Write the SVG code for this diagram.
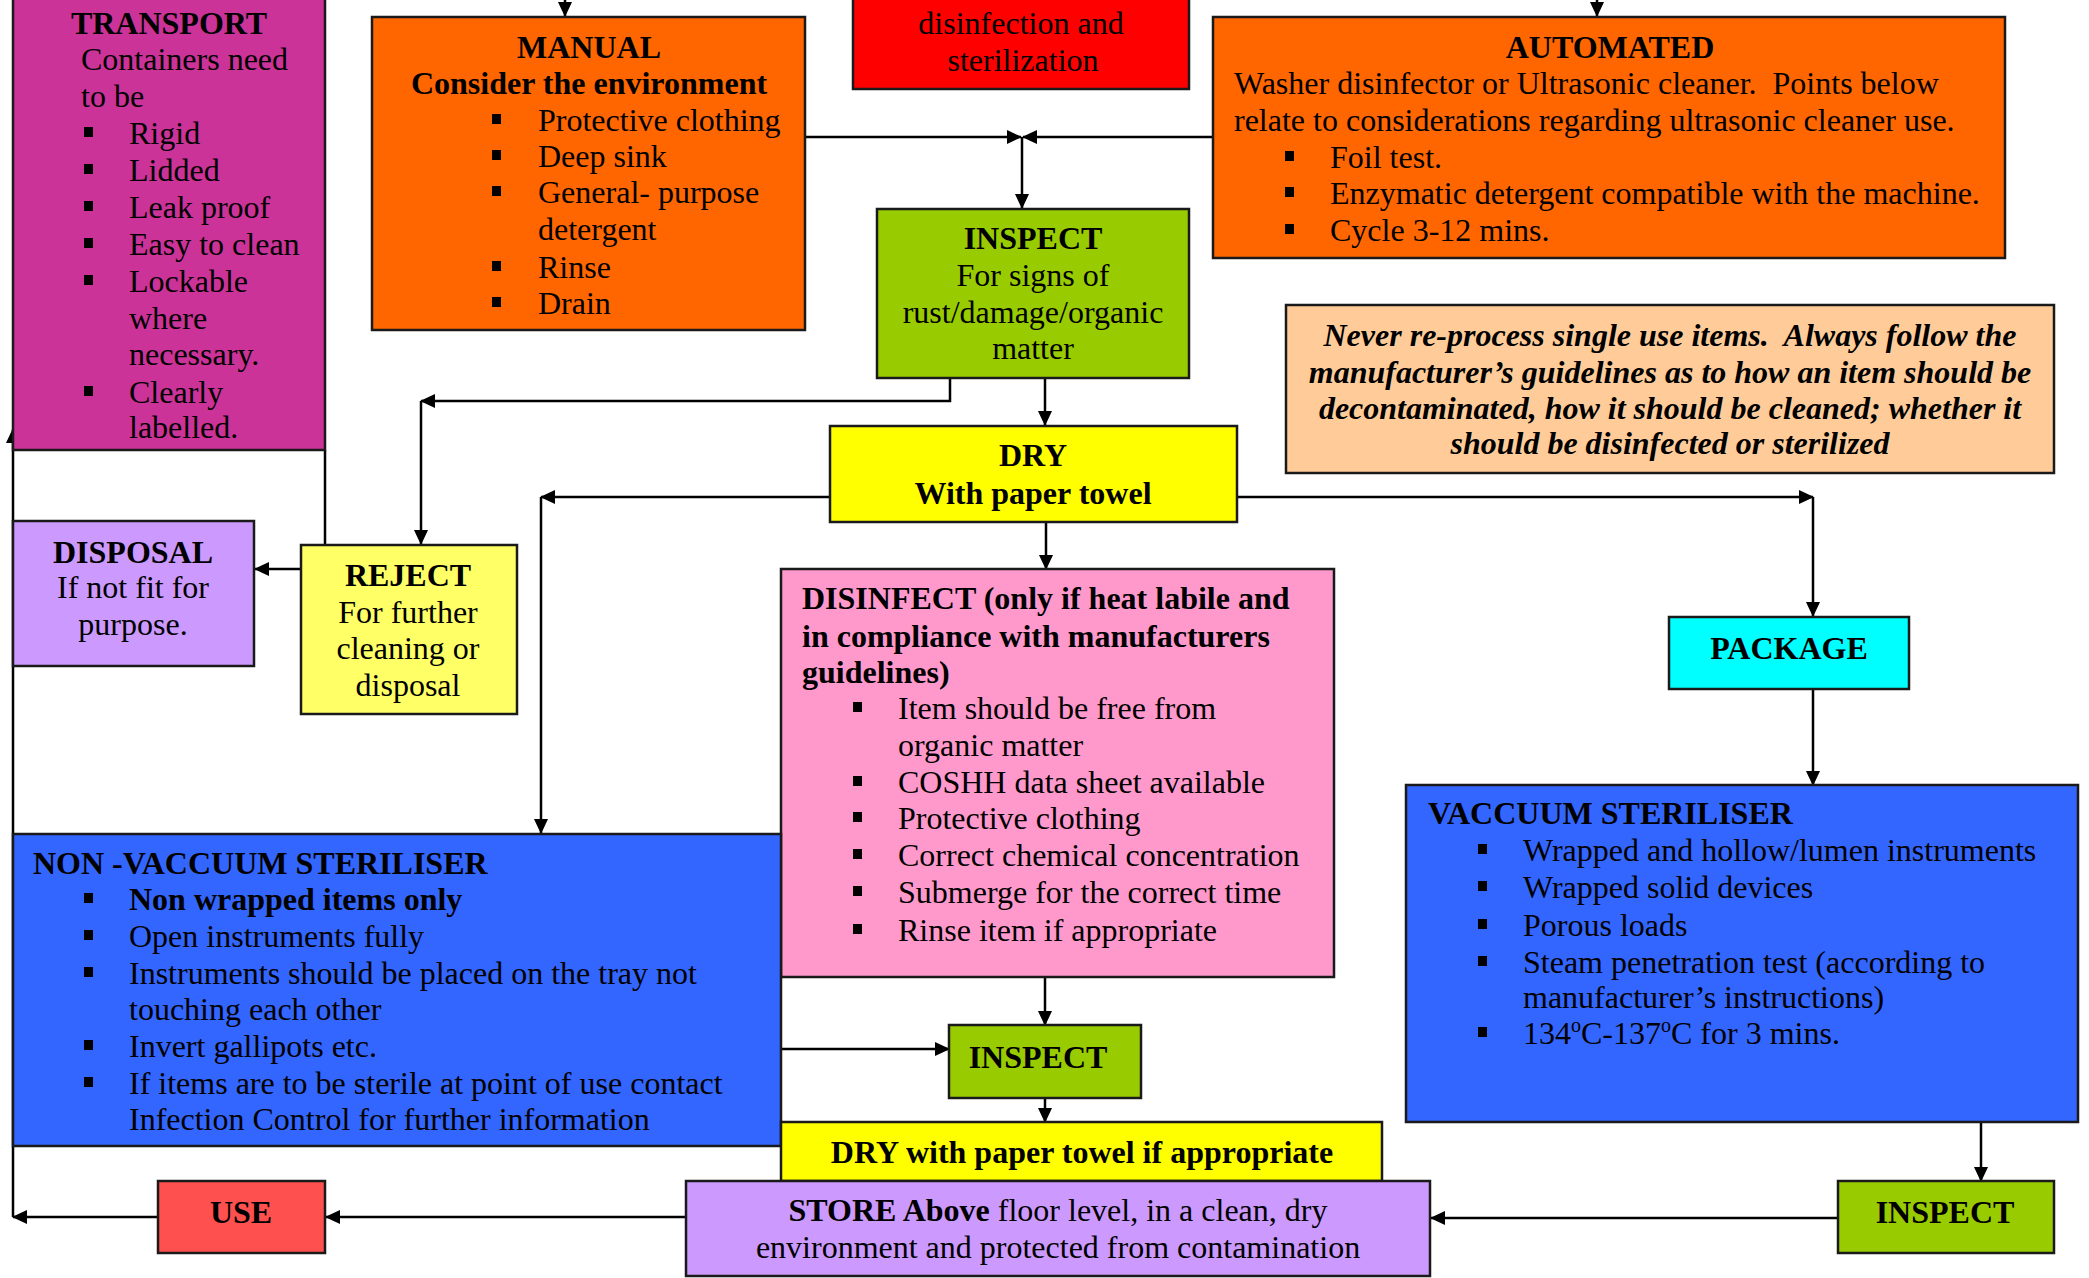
<svg xmlns="http://www.w3.org/2000/svg" width="2089" height="1278" viewBox="0 0 2089 1278">
<style>
.box{stroke:#1a1a1a;stroke-width:2.5}
text{font-family:"Liberation Serif","Times New Roman",serif;font-size:32px;fill:#000}
.b{font-weight:bold}
.c{text-anchor:middle}
.bi{font-weight:bold;font-style:italic}
.con{fill:none;stroke:#000;stroke-width:2.5}
.bul{fill:#000}
</style>
<defs>
<marker id="ar" markerUnits="userSpaceOnUse" markerWidth="15" markerHeight="14" viewBox="0 0 15 14" refX="14" refY="7" orient="auto">
<path d="M0,0 L15,7 L0,14 z" fill="#000"/>
</marker>
</defs>
<rect width="2089" height="1278" fill="#fff"/>

<g id="connectors">
<path class="con" d="M565,0 V16" marker-end="url(#ar)"/>
<path class="con" d="M1597,0 V16" marker-end="url(#ar)"/>
<path class="con" d="M805,137 H1021" marker-end="url(#ar)"/>
<path class="con" d="M1213,137 H1023" marker-end="url(#ar)"/>
<path class="con" d="M1022,137 V208" marker-end="url(#ar)"/>
<path class="con" d="M950,378 V401 H421" marker-end="url(#ar)"/>
<path class="con" d="M421,401 V544" marker-end="url(#ar)"/>
<path class="con" d="M1045,378 V425" marker-end="url(#ar)"/>
<path class="con" d="M830,497 H541" marker-end="url(#ar)"/>
<path class="con" d="M541,497 V833" marker-end="url(#ar)"/>
<path class="con" d="M1237,497 H1813" marker-end="url(#ar)"/>
<path class="con" d="M1813,497 V616" marker-end="url(#ar)"/>
<path class="con" d="M1046,522 V569" marker-end="url(#ar)"/>
<path class="con" d="M1813,689 V785" marker-end="url(#ar)"/>
<path class="con" d="M325,450 V545"/>
<path class="con" d="M301,569 H255" marker-end="url(#ar)"/>
<path class="con" d="M1045,977 V1025" marker-end="url(#ar)"/>
<path class="con" d="M1045,1098 V1122" marker-end="url(#ar)"/>
<path class="con" d="M781,1049 H949" marker-end="url(#ar)"/>
<path class="con" d="M1981,1122 V1181" marker-end="url(#ar)"/>
<path class="con" d="M1838,1218 H1431" marker-end="url(#ar)"/>
<path class="con" d="M686,1217 H326" marker-end="url(#ar)"/>
<path class="con" d="M158,1217 H13" marker-end="url(#ar)"/>
<path class="con" d="M13,1217 V429" marker-end="url(#ar)"/>
</g>

<g id="transport">
<rect class="box" x="13" y="-10" width="312" height="460" fill="#CC3399"/>
<text class="b c" x="169" y="34">TRANSPORT</text>
<text x="81" y="70">Containers need</text>
<text x="81" y="107">to be</text>
<g class="bul"><rect x="84" y="127" width="9" height="10"/><rect x="84" y="164" width="9" height="10"/><rect x="84" y="201" width="9" height="10"/><rect x="84" y="238" width="9" height="10"/><rect x="84" y="275" width="9" height="10"/><rect x="84" y="386" width="9" height="10"/></g>
<text x="129" y="144">Rigid</text>
<text x="129" y="181">Lidded</text>
<text x="129" y="218">Leak proof</text>
<text x="129" y="255">Easy to clean</text>
<text x="129" y="292">Lockable</text>
<text x="129" y="329">where</text>
<text x="129" y="365">necessary.</text>
<text x="129" y="403">Clearly</text>
<text x="129" y="438">labelled.</text>
</g>

<g id="manual">
<rect class="box" x="372" y="17" width="433" height="313" fill="#FF6600"/>
<text class="b c" x="589" y="58">MANUAL</text>
<text class="b c" x="589" y="94">Consider the environment</text>
<g class="bul"><rect x="492" y="114" width="9" height="10"/><rect x="492" y="150" width="9" height="10"/><rect x="492" y="186" width="9" height="10"/><rect x="492" y="261" width="9" height="10"/><rect x="492" y="297" width="9" height="10"/></g>
<text x="538" y="131">Protective clothing</text>
<text x="538" y="167">Deep sink</text>
<text x="538" y="203">General- purpose</text>
<text x="538" y="240">detergent</text>
<text x="538" y="278">Rinse</text>
<text x="538" y="314">Drain</text>
</g>

<g id="decon">
<rect class="box" x="853" y="-10" width="336" height="99" fill="#FF0000"/>
<text class="c" x="1021" y="34">disinfection and</text>
<text class="c" x="1023" y="71">sterilization</text>
</g>

<g id="automated">
<rect class="box" x="1213" y="17" width="792" height="241" fill="#FF6600"/>
<text class="b c" x="1610" y="58">AUTOMATED</text>
<text x="1234" y="94" xml:space="preserve">Washer disinfector or Ultrasonic cleaner.  Points below</text>
<text x="1234" y="131">relate to considerations regarding ultrasonic cleaner use.</text>
<g class="bul"><rect x="1285" y="151" width="9" height="10"/><rect x="1285" y="187" width="9" height="10"/><rect x="1285" y="224" width="9" height="10"/></g>
<text x="1330" y="168">Foil test.</text>
<text x="1330" y="204">Enzymatic detergent compatible with the machine.</text>
<text x="1330" y="241">Cycle 3-12 mins.</text>
</g>

<g id="inspect1">
<rect class="box" x="877" y="209" width="312" height="169" fill="#99CC00"/>
<text class="b c" x="1033" y="249">INSPECT</text>
<text class="c" x="1033" y="286">For signs of</text>
<text class="c" x="1033" y="323">rust/damage/organic</text>
<text class="c" x="1033" y="359">matter</text>
</g>

<g id="note">
<rect class="box" x="1286" y="305" width="768" height="168" fill="#FFCC99"/>
<text class="bi c" x="1670" y="346" xml:space="preserve">Never re-process single use items.  Always follow the</text>
<text class="bi c" x="1670" y="383">manufacturer’s guidelines as to how an item should be</text>
<text class="bi c" x="1670" y="419">decontaminated, how it should be cleaned; whether it</text>
<text class="bi c" x="1670" y="454">should be disinfected or sterilized</text>
</g>

<g id="dry1">
<rect class="box" x="830" y="426" width="407" height="96" fill="#FFFF00"/>
<text class="b c" x="1033" y="466">DRY</text>
<text class="b c" x="1033" y="504">With paper towel</text>
</g>

<g id="disposal">
<rect class="box" x="13" y="521" width="241" height="145" fill="#CC99FF"/>
<text class="b c" x="133" y="563">DISPOSAL</text>
<text class="c" x="133" y="598">If not fit for</text>
<text class="c" x="133" y="635">purpose.</text>
</g>

<g id="reject">
<rect class="box" x="301" y="545" width="216" height="169" fill="#FFFF66"/>
<text class="b c" x="408" y="586">REJECT</text>
<text class="c" x="408" y="623">For further</text>
<text class="c" x="408" y="659">cleaning or</text>
<text class="c" x="408" y="696">disposal</text>
</g>

<g id="disinfect">
<rect class="box" x="781" y="569" width="553" height="408" fill="#FF99CC"/>
<text class="b" x="802" y="609">DISINFECT (only if heat labile and</text>
<text class="b" x="802" y="647">in compliance with manufacturers</text>
<text class="b" x="802" y="683">guidelines)</text>
<g class="bul"><rect x="853" y="702" width="9" height="10"/><rect x="853" y="776" width="9" height="10"/><rect x="853" y="812" width="9" height="10"/><rect x="853" y="849" width="9" height="10"/><rect x="853" y="886" width="9" height="10"/><rect x="853" y="924" width="9" height="10"/></g>
<text x="898" y="719">Item should be free from</text>
<text x="898" y="756">organic matter</text>
<text x="898" y="793">COSHH data sheet available</text>
<text x="898" y="829">Protective clothing</text>
<text x="898" y="866">Correct chemical concentration</text>
<text x="898" y="903">Submerge for the correct time</text>
<text x="898" y="941">Rinse item if appropriate</text>
</g>

<g id="package">
<rect class="box" x="1669" y="617" width="240" height="72" fill="#00FFFF"/>
<text class="b c" x="1789" y="659">PACKAGE</text>
</g>

<g id="vaccuum">
<rect class="box" x="1406" y="785" width="672" height="337" fill="#3366FF"/>
<text class="b" x="1428" y="824">VACCUUM STERILISER</text>
<g class="bul"><rect x="1478" y="844" width="9" height="10"/><rect x="1478" y="881" width="9" height="10"/><rect x="1478" y="919" width="9" height="10"/><rect x="1478" y="956" width="9" height="10"/><rect x="1478" y="1027" width="9" height="10"/></g>
<text x="1523" y="861">Wrapped and hollow/lumen instruments</text>
<text x="1523" y="898">Wrapped solid devices</text>
<text x="1523" y="936">Porous loads</text>
<text x="1523" y="973">Steam penetration test (according to</text>
<text x="1523" y="1008">manufacturer’s instructions)</text>
<text x="1523" y="1044">134<tspan font-size="20" dy="-12">o</tspan><tspan dy="12">C-137</tspan><tspan font-size="20" dy="-12">o</tspan><tspan dy="12">C for 3 mins.</tspan></text>
</g>

<g id="nonvaccuum">
<rect class="box" x="13" y="834" width="768" height="312" fill="#3366FF"/>
<text class="b" x="33" y="874">NON -VACCUUM STERILISER</text>
<g class="bul"><rect x="84" y="893" width="9" height="10"/><rect x="84" y="930" width="9" height="10"/><rect x="84" y="967" width="9" height="10"/><rect x="84" y="1040" width="9" height="10"/><rect x="84" y="1077" width="9" height="10"/></g>
<text class="b" x="129" y="910">Non wrapped items only</text>
<text x="129" y="947">Open instruments fully</text>
<text x="129" y="984">Instruments should be placed on the tray not</text>
<text x="129" y="1020">touching each other</text>
<text x="129" y="1057">Invert gallipots etc.</text>
<text x="129" y="1094">If items are to be sterile at point of use contact</text>
<text x="129" y="1130">Infection Control for further information</text>
</g>

<g id="inspect2">
<rect class="box" x="949" y="1025" width="192" height="73" fill="#99CC00"/>
<text class="b c" x="1038" y="1068">INSPECT</text>
</g>

<g id="dry2">
<rect class="box" x="781" y="1122" width="601" height="59" fill="#FFFF00"/>
<text class="b c" x="1082" y="1163">DRY with paper towel if appropriate</text>
</g>

<g id="store">
<rect class="box" x="686" y="1181" width="744" height="95" fill="#CC99FF"/>
<text class="c" x="1058" y="1221"><tspan font-weight="bold">STORE Above</tspan> floor level, in a clean, dry</text>
<text class="c" x="1058" y="1258">environment and protected from contamination</text>
</g>

<g id="use">
<rect class="box" x="158" y="1181" width="167" height="72" fill="#FF5050"/>
<text class="b c" x="241" y="1223">USE</text>
</g>

<g id="inspect3">
<rect class="box" x="1838" y="1181" width="216" height="72" fill="#99CC00"/>
<text class="b c" x="1945" y="1223">INSPECT</text>
</g>
</svg>
